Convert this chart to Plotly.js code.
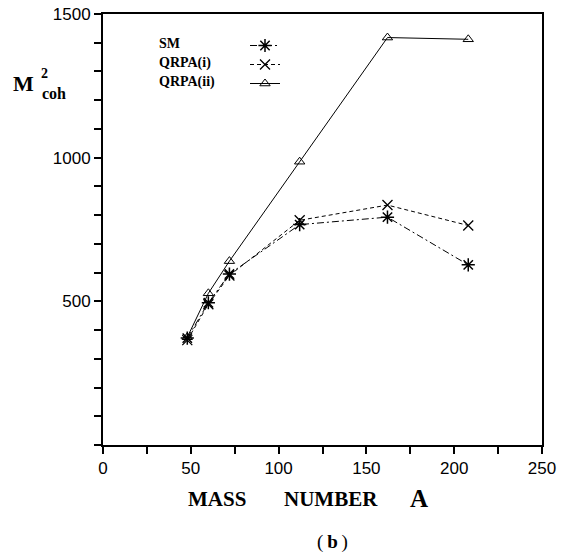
<!DOCTYPE html>
<html><head><meta charset="utf-8">
<script src="https://cdn.plot.ly/plotly-3.0.1.min.js"></script>
<style>html,body{margin:0;padding:0;background:#fff}</style>
</head><body>
<div id="chart" style="width:561px;height:554px"></div>
<script>
// ---- data ----
const massNumber = [48, 60, 72, 112, 162, 208];
const smValues = [372, 495, 595, 767, 793, 627];
const qrpa1Values = [365, 490, 590, 782, 835, 764];
const qrpa2Values = [375, 528, 640, 986, 1418, 1412];
const seriesNames = ['SM', 'QRPA(i)', 'QRPA(ii)'];
const xTickVals = [0, 25, 50, 75, 100, 125, 150, 175, 200, 225, 250];
const xTickText = ['0', '', '50', '', '100', '', '150', '', '200', '', '250'];
const yTickVals = [0, 100, 200, 300, 400, 500, 600, 700, 800, 900, 1000, 1100, 1200, 1300, 1400, 1500];
const yTickText = ['', '', '', '', '', '500', '', '', '', '', '1000', '', '', '', '', '1500'];
const xTitleWords = ['MASS', 'NUMBER', 'A'];
const yTitleParts = ['M', '2', 'coh'];
const panelLabel = '(&#8201;<b>b</b>&#8201;)';

// ---- layout helpers (pixel -> paper) ----
const L = 103, R = 542, T = 14, B = 445;
const px = x => (x - L) / (R - L);
const py = y => (B - y) / (B - T);
const serif = 'Liberation Serif, DejaVu Serif, serif';
const sans = 'Liberation Sans, Arial, sans-serif';

const traces = [
  {x: massNumber, y: smValues, name: ' ', mode: 'lines+markers',
   line: {color: '#000', width: 1, dash: '7px,3px,2px,3px'},
   marker: {symbol: 'asterisk-open', size: 11, line: {color: '#000', width: 1.5}}},
  {x: massNumber, y: qrpa1Values, name: ' ', mode: 'lines+markers',
   line: {color: '#000', width: 1, dash: '4px,3px'},
   marker: {symbol: 'x-thin-open', size: 10, line: {color: '#000', width: 1.3}}},
  {x: massNumber, y: qrpa2Values, name: ' ', mode: 'lines+markers',
   line: {color: '#000', width: 1},
   marker: {symbol: 'triangle-up-open', size: 9, color: '#000', line: {color: '#000', width: 1}}}
];

const ann = [];
function addText(text, x, y, size, anchor, bold) {
  ann.push({text: bold ? '<b>' + text + '</b>' : text, xref: 'paper', yref: 'paper',
    x: px(x), y: py(y), xanchor: anchor, yanchor: 'middle', showarrow: false,
    font: {family: serif, size: size, color: '#000'}});
}
// axis title
addText(xTitleWords[0], 217, 499, 21, 'center', true);
addText(xTitleWords[1], 331, 499, 21, 'center', true);
addText(xTitleWords[2], 419, 498, 25, 'center', true);
addText(panelLabel, 332, 542, 19, 'center', false);
// y title
addText(yTitleParts[0], 23, 83, 22, 'center', true);
addText(yTitleParts[1], 44.5, 73, 14, 'center', true);
addText(yTitleParts[2], 54, 93, 16, 'center', true);
// legend labels
addText(seriesNames[0], 157, 44, 14, 'left', true);
addText(seriesNames[1], 157, 63, 14, 'left', true);
addText(seriesNames[2], 157, 82, 14, 'left', true);

const axisCommon = {showgrid: false, zeroline: false, showline: true, linecolor: '#000', linewidth: 2,
  mirror: true, ticks: 'outside', ticklen: 7, tickwidth: 2, tickcolor: '#000',
  tickmode: 'array', tickfont: {family: sans, size: 17, color: '#000'}, fixedrange: true};

const layout = {
  width: 561, height: 554,
  margin: {l: L, r: 561 - R, t: T, b: 554 - B},
  paper_bgcolor: '#fff', plot_bgcolor: '#fff',
  xaxis: Object.assign({}, axisCommon, {range: [0, 250], tickvals: xTickVals, ticktext: xTickText}),
  yaxis: Object.assign({}, axisCommon, {range: [0, 1500], tickvals: yTickVals, ticktext: yTickText}),
  showlegend: true,
  legend: {x: px(245), y: py(31), xanchor: 'left', yanchor: 'top', bgcolor: 'rgba(0,0,0,0)',
    font: {family: serif, size: 12}, tracegroupgap: 0},
  annotations: ann
};

Plotly.newPlot('chart', traces, layout, {staticPlot: true, displayModeBar: false});
</script>
</body></html>
